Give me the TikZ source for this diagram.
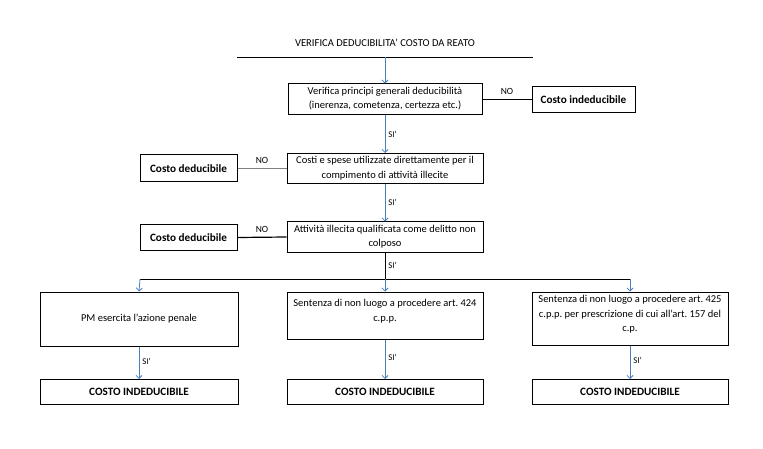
\documentclass[tikz,border=0pt]{standalone}
\usepackage{fontspec}
\setmainfont{Carlito}
\usetikzlibrary{arrows.meta}
\definecolor{arrowblue}{HTML}{4A7EBB}
\frenchspacing
\begin{document}
\begin{tikzpicture}[x=1pt,y=-1pt,
  box/.style={draw=black, line width=1pt, inner sep=0pt,
    font=\fontsize{10.5}{14.5}\selectfont},
  endbox/.style={box, font=\fontsize{11.2}{14.5}\selectfont\bfseries},
  txt/.style={inner sep=0pt, text height=7.5pt, text depth=2.5pt,
    font=\fontsize{10.5}{14.5}\selectfont},
  lbl/.style={font=\fontsize{9.5}{10}\selectfont, inner sep=0pt},
  silbl/.style={font=\fontsize{8.8}{10}\selectfont, inner sep=0pt},
  flow/.style={draw=arrowblue, line width=0.8pt, -{Straight Barb[length=3pt,width=6pt]}},
  noline/.style={draw=black, line width=1.2pt},
  nolinegray/.style={draw=gray, line width=1pt},
  plain/.style={draw=black, line width=0.8pt}
]
\useasboundingbox (0,0) rectangle (763,449);

% title
\node[font=\fontsize{10.6}{12}\selectfont, inner sep=0pt] (title) at (385,43) {VERIFICA DEDUCIBILITA' COSTO DA REATO};
\coordinate (tl) at (237,57);
\coordinate (tr) at (533,57);
\coordinate (tm) at (385,57);
\draw[plain] (tl) -- (tr);

% row 1
\node[box, minimum width=194, minimum height=31] (b1) at (385,99.5) {};
\node[txt] (b1a) at (385,92) {Verifica principi generali deducibilità};
\node[txt] (b1b) at (385,106.5) {(inerenza, cometenza, certezza etc.)};
\node[endbox, minimum width=103, minimum height=26] (ind1) at (583.5,99.5) {Costo indeducibile};
\draw[noline] (b1.east) -- node[lbl, above=4pt] (no1) {NO} (ind1.west);
\draw[flow] (tm) -- (b1.north);

% row 2
\node[box, minimum width=196, minimum height=30] (b2) at (385,168.5) {};
\node[txt] (b2a) at (385,161.5) {Costi e spese utilizzate direttamente per il};
\node[txt] (b2b) at (385,176) {compimento di attività illecite};
\node[endbox, minimum width=97, minimum height=27] (ded1) at (188.5,168.5) {Costo deducibile};
\draw[nolinegray] (ded1.east) -- node[lbl, above=4pt] (no2) {NO} (b2.west);
\draw[flow] (b1.south) -- node[silbl, right=3pt] (si1) {SI'} (b2.north);

% row 3
\node[box, minimum width=196, minimum height=30] (b3) at (385,237) {};
\node[txt] (b3a) at (385,230) {Attività illecita qualificata come delitto non};
\node[txt] (b3b) at (385,244.5) {colposo};
\node[endbox, minimum width=97, minimum height=26] (ded2) at (188.5,237.5) {Costo deducibile};
\draw[noline] (ded2.east) -- node[lbl, above=4pt] (no3) {NO} (b3.west);
\draw[flow] (b2.south) -- node[silbl, right=3pt] (si2) {SI'} (b3.north);

% split
\coordinate (sm) at (385,279);
\coordinate (sl) at (140,279);
\coordinate (sr) at (630,279);
\draw[plain] (b3.south) -- node[silbl, right=3pt] (si3) {SI'} (sm);
\draw[plain] (sl) -- (sr);

% row 4
\node[box, minimum width=198, minimum height=54] (c1) at (139,319) {PM esercita l'azione penale};
\node[box, minimum width=196, minimum height=47] (c2) at (385,315.5) {};
\node[txt] (c2a) at (385,304) {Sentenza di non luogo a procedere art. 424};
\node[txt] (c2b) at (385,318.5) {c.p.p.};
\node[box, minimum width=196, minimum height=53] (c3) at (630,318.5) {};
\node[txt] (c3a) at (630,300) {Sentenza di non luogo a procedere art. 425};
\node[txt] (c3b) at (630,314.5) {c.p.p. per prescrizione di cui all'art. 157 del};
\node[txt] (c3c) at (630,329) {c.p.};
\draw[flow] (sl) -- (c1.north);
\draw[flow] (sm) -- (c2.north);
\draw[flow] (sr) -- (c3.north);

% row 5
\node[endbox, minimum width=198, minimum height=25] (d1) at (139,392) {COSTO INDEDUCIBILE};
\node[endbox, minimum width=196, minimum height=25] (d2) at (385,392) {COSTO INDEDUCIBILE};
\node[endbox, minimum width=196, minimum height=25] (d3) at (630,392) {COSTO INDEDUCIBILE};
\draw[flow] (c1.south) -- node[silbl, right=3pt, pos=0.45] (si4) {SI'} (d1.north);
\draw[flow] (c2.south) -- node[silbl, right=3pt, pos=0.45] (si5) {SI'} (d2.north);
\draw[flow] (c3.south) -- node[silbl, right=3pt, pos=0.45] (si6) {SI'} (d3.north);
\end{tikzpicture}
\end{document}
